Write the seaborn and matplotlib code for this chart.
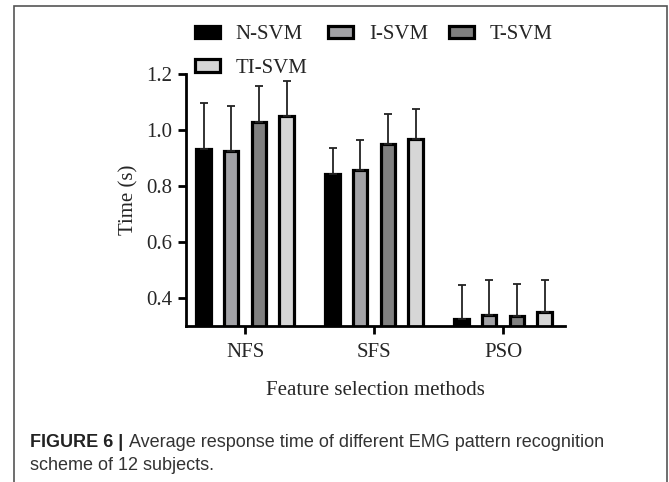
import matplotlib
matplotlib.use("Agg")
import matplotlib.pyplot as plt
import seaborn as sns
import pandas as pd
import numpy as np
from matplotlib.patches import Rectangle

# Data
methods = ['NFS', 'SFS', 'PSO']
schemes = ['N-SVM', 'I-SVM', 'T-SVM', 'TI-SVM']
n_svm = [0.931, 0.842, 0.324]
i_svm = [0.923, 0.857, 0.337]
t_svm = [1.030, 0.951, 0.335]
ti_svm = [1.050, 0.969, 0.349]
n_err = [0.164, 0.095, 0.121]
i_err = [0.163, 0.107, 0.125]
t_err = [0.127, 0.106, 0.115]
ti_err = [0.125, 0.106, 0.116]

means = {'N-SVM': n_svm, 'I-SVM': i_svm, 'T-SVM': t_svm, 'TI-SVM': ti_svm}
errs = {'N-SVM': n_err, 'I-SVM': i_err, 'T-SVM': t_err, 'TI-SVM': ti_err}

rows = []
for s in schemes:
    for m, v in zip(methods, means[s]):
        rows.append({'Method': m, 'Scheme': s, 'Time': v})
df = pd.DataFrame(rows)

sns.set_style('white')
plt.rcParams['font.family'] = ['Liberation Serif', 'DejaVu Serif']

palette = ['#000000', '#a2a2a6', '#808080', '#d6d6d6']

fig = plt.figure(figsize=(6.69, 4.82), dpi=100)
ax = fig.add_axes([0.2776, 0.3243, 0.567, 0.5222])

sns.barplot(data=df, x='Method', y='Time', hue='Scheme', order=methods,
            hue_order=schemes, palette=palette, width=0.857, gap=0.48,
            errorbar=None, edgecolor='black', linewidth=2.3, saturation=1,
            legend=False, ax=ax)

# upper error bars only
for cont, s in zip(ax.containers, schemes):
    xs = [b.get_x() + b.get_width() / 2 for b in cont]
    ys = [b.get_height() for b in cont]
    e = errs[s]
    ax.errorbar(xs, ys, yerr=[np.zeros(len(e)), e], fmt='none',
                ecolor='#222222', elinewidth=1.3, capsize=3, capthick=1.3,
                zorder=1)

ax.set_ylim(0.3, 1.2)
ax.set_xlim(-0.46, 2.48)
ax.set_yticks([0.4, 0.6, 0.8, 1.0, 1.2])
ax.set_yticklabels(['0.4', '0.6', '0.8', '1.0', '1.2'])
ax.set_ylabel('Time (s)', fontsize=15, labelpad=6)
ax.set_xlabel('Feature selection methods', fontsize=15, labelpad=13.5)
ax.tick_params(axis='both', labelsize=15, length=6, width=2, direction='out',
               color='black', left=True, bottom=True)
ax.tick_params(axis='x', pad=6.5)
sns.despine(ax=ax)
for sp in ['left', 'bottom']:
    ax.spines[sp].set_linewidth(2)
    ax.spines[sp].set_color('black')

# row-major legend: N, I, T on first row, TI below N
conts = ax.containers
order = [0, 3, 1, 2]
fig.legend([conts[i] for i in order], [schemes[i] for i in order],
           loc='upper left', bbox_to_anchor=(0.2915, 0.9476), ncol=3,
           frameon=False, fontsize=15, borderpad=0, borderaxespad=0,
           handlelength=1.2, handleheight=0.55, handletextpad=0.75,
           columnspacing=1.0, labelspacing=0.7)

# figure frame and caption
fig.patches.append(Rectangle((0.021, -0.01), 0.976, 0.9976, fill=False,
                             edgecolor='#555555', linewidth=1.2,
                             transform=fig.transFigure))
t1 = fig.text(0.045, 0.0726, 'FIGURE 6 |', fontsize=13, weight='bold',
              family='Liberation Sans', color='#222222', va='baseline')
fig.text(0.0, 0.0, 'Average response time of different EMG pattern recognition',
         fontsize=13, family='Liberation Sans', color='#333333')
fig.texts[-1].remove()
plt.annotate('Average response time of different EMG pattern recognition',
             xy=(1, 0), xycoords=t1, xytext=(4, 0), textcoords='offset points',
             fontsize=13, family='Liberation Sans', color='#333333',
             va='bottom', ha='left')
fig.text(0.045, 0.0249, 'scheme of 12 subjects.', fontsize=13,
         family='Liberation Sans', color='#333333', va='baseline')

fig.savefig('out.png', dpi=100)
